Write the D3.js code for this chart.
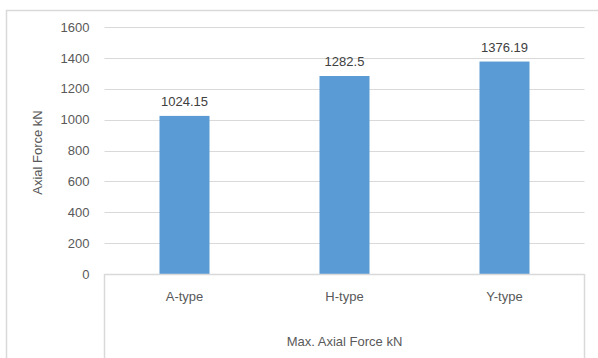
<!DOCTYPE html>
<html>
<head>
<meta charset="utf-8">
<script src="https://cdn.jsdelivr.net/npm/d3@7"></script>
<style>
  html, body { margin: 0; padding: 0; background: #fff; }
  svg { display: block; font-family: "Liberation Sans", Arial, sans-serif; }
</style>
</head>
<body>
<svg id="chart" width="598" height="358"></svg>
<script>
// Chart data
const categories = ["A-type", "H-type", "Y-type"];
const axialForce = [1024.15, 1282.5, 1376.19];
const valueLabels = ["1024.15", "1282.5", "1376.19"];
const yTicks = [0, 200, 400, 600, 800, 1000, 1200, 1400, 1600];
const groupLabel = "Max. Axial Force kN";
const yTitle = "Axial Force kN";

const svg = d3.select("#chart");
const gridColor = "#d9d9d9";

// Plot frame
const plotLeft = 104.5, plotRight = 584.5, plotTop = 27, plotBottom = 274;

// Outer chart border (extends past the right and bottom edges)
svg.append("rect")
  .attr("x", 6.5).attr("y", 10.5)
  .attr("width", 620).attr("height", 400)
  .attr("fill", "none").attr("stroke", gridColor).attr("stroke-width", 1.5);

const x = d3.scaleBand()
  .domain(categories)
  .range([plotLeft, plotRight])
  .paddingInner(0.6875)
  .paddingOuter(0.34375);

const y = d3.scaleLinear().domain([0, 1600]).range([plotBottom, plotTop]);

// Gridlines
svg.append("g")
  .selectAll("line")
  .data(yTicks.filter(d => d > 0))
  .join("line")
  .attr("x1", plotLeft).attr("x2", plotRight)
  .attr("y1", d => Math.round(y(d)) + 0.5).attr("y2", d => Math.round(y(d)) + 0.5)
  .attr("stroke", gridColor).attr("stroke-width", 1);

// Y axis tick labels
const yAxis = d3.axisLeft(y).tickValues(yTicks).tickFormat(d3.format("d")).tickSize(0).tickPadding(15);
const gy = svg.append("g").attr("transform", `translate(${plotLeft},0)`).call(yAxis);
gy.select(".domain").remove();
gy.selectAll("text")
  .attr("fill", "#595959")
  .style("font-size", "13px")
  .style("font-family", "'Liberation Sans', Arial, sans-serif");

// Bars
svg.append("g")
  .selectAll("rect")
  .data(categories)
  .join("rect")
  .attr("x", d => x(d))
  .attr("width", x.bandwidth())
  .attr("y", (d, i) => y(axialForce[i]))
  .attr("height", (d, i) => y(0) - y(axialForce[i]))
  .attr("fill", "#5b9bd5");

// Value labels
svg.append("g")
  .selectAll("text")
  .data(categories)
  .join("text")
  .attr("x", d => x(d) + x.bandwidth() / 2)
  .attr("y", (d, i) => y(axialForce[i]) - 10)
  .attr("text-anchor", "middle")
  .attr("fill", "#404040")
  .style("font-size", "13px")
  .text((d, i) => valueLabels[i]);

// Category table below the plot
const table = svg.append("g").attr("stroke", gridColor).attr("stroke-width", 1.5);
table.append("line").attr("x1", plotLeft).attr("x2", plotRight).attr("y1", plotBottom + 0.5).attr("y2", plotBottom + 0.5);
table.append("line").attr("x1", plotLeft).attr("x2", plotLeft).attr("y1", plotBottom).attr("y2", 400);
table.append("line").attr("x1", plotRight).attr("x2", plotRight).attr("y1", plotBottom).attr("y2", 400);

// Category labels
const xAxis = d3.axisBottom(x).tickSize(0).tickPadding(18);
const gx = svg.append("g").attr("transform", `translate(0,${plotBottom})`).call(xAxis);
gx.select(".domain").remove();
gx.selectAll("text")
  .attr("fill", "#595959")
  .style("font-size", "13px")
  .style("font-family", "'Liberation Sans', Arial, sans-serif");

// Group label
svg.append("text")
  .attr("x", (plotLeft + plotRight) / 2)
  .attr("y", 346)
  .attr("text-anchor", "middle")
  .attr("fill", "#595959")
  .style("font-size", "13px")
  .text(groupLabel);

// Y axis title
svg.append("text")
  .attr("transform", `translate(42,${(plotTop + plotBottom) / 2 + 2}) rotate(-90)`)
  .attr("text-anchor", "middle")
  .attr("fill", "#595959")
  .style("font-size", "13px")
  .text(yTitle);
</script>
</body>
</html>
